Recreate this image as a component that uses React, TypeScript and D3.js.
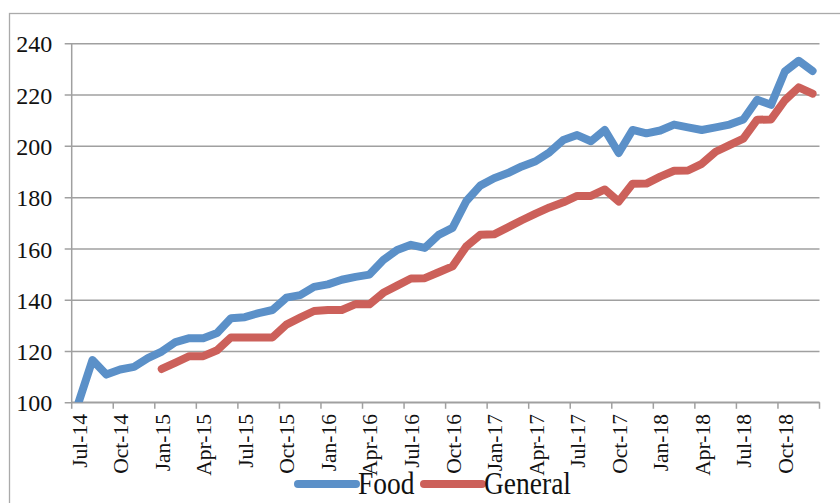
import React, { useEffect, useRef } from "react";
import * as d3 from "d3";

// monthly index values, Jul-14 .. Dec-18
const months = [
  "Jul-14", "Aug-14", "Sep-14", "Oct-14", "Nov-14", "Dec-14",
  "Jan-15", "Feb-15", "Mar-15", "Apr-15", "May-15", "Jun-15",
  "Jul-15", "Aug-15", "Sep-15", "Oct-15", "Nov-15", "Dec-15",
  "Jan-16", "Feb-16", "Mar-16", "Apr-16", "May-16", "Jun-16",
  "Jul-16", "Aug-16", "Sep-16", "Oct-16", "Nov-16", "Dec-16",
  "Jan-17", "Feb-17", "Mar-17", "Apr-17", "May-17", "Jun-17",
  "Jul-17", "Aug-17", "Sep-17", "Oct-17", "Nov-17", "Dec-17",
  "Jan-18", "Feb-18", "Mar-18", "Apr-18", "May-18", "Jun-18",
  "Jul-18", "Aug-18", "Sep-18", "Oct-18", "Nov-18", "Dec-18",
];

const food = [
  100, 116.5, 110.8, 112.8, 113.8, 117.2,
  119.8, 123.5, 125, 125, 127, 132.8,
  133.2, 134.8, 136, 140.8, 141.8, 145,
  146, 147.8, 148.9, 149.8, 155.5, 159.4,
  161.4, 160.2, 165.3, 168, 178.5, 184.5,
  187.4, 189.4, 192, 194, 197.5, 202.3,
  204.2, 201.8, 206.2, 197.2, 206.2, 204.9,
  206, 208.3, 207.2, 206.2, 207.2, 208.3,
  210.3, 218, 216, 229, 233.2, 229.2,
];

const general = [
  null, null, null, null, null, null,
  113, 115.5, 118, 118, 120.3, 125.3,
  125.3, 125.3, 125.3, 130.3, 133, 135.6,
  136, 136, 138.3, 138.2, 142.7, 145.5,
  148.3, 148.4, 150.7, 153, 160.8, 165.3,
  165.5, 168.2, 171, 173.6, 176, 178,
  180.5, 180.5, 183, 178.3, 185.2, 185.3,
  188, 190.3, 190.4, 193, 197.7, 200.3,
  202.8, 210.2, 210.3, 217.8, 222.8, 220.4,
];

const yTicks = [100, 120, 140, 160, 180, 200, 220, 240];
const xLabels = months.filter((m, i) => i % 3 === 0);

const series = [
  { name: "Food", values: food, color: "#5b90c8" },
  { name: "General", values: general, color: "#cc605a" },
];

export default function App() {
  const svgRef = useRef<SVGSVGElement>(null);

  useEffect(() => {
    const W = 840;
    const H = 503;
    const svg = d3.select(svgRef.current).attr("width", W).attr("height", H);
    svg.selectAll("*").remove();

    const left = 71.7;
    const right = 819.5;
    const top = 43.3;
    const bottom = 402.3;
    const grey = "#a0a0a0";
    const serif = "Liberation Serif, DejaVu Serif, serif";

    const x = d3.scaleBand().domain(months).range([left, right]).padding(0);
    const y = d3.scaleLinear().domain([100, 240]).range([bottom, top]);

    // outer frame
    svg.append("rect")
      .attr("x", 9.5).attr("y", 13.5)
      .attr("width", W).attr("height", H)
      .attr("fill", "white")
      .attr("stroke", "#aaaaaa")
      .attr("stroke-width", 1.3);

    // horizontal grid + y labels
    const yAxis = d3.axisLeft(y)
      .tickValues(yTicks)
      .tickSize(-(right - left))
      .tickSizeOuter(0)
      .tickFormat(d3.format("d"));
    const gy = svg.append("g").attr("transform", `translate(${left},0)`).call(yAxis);
    gy.attr("font-family", null).attr("font-size", null);
    gy.select(".domain").remove();
    gy.selectAll(".tick line")
      .attr("x1", -7)
      .attr("stroke", grey)
      .attr("stroke-width", 1.5);
    gy.selectAll(".tick text")
      .style("font-family", serif)
      .style("font-size", "24px")
      .attr("fill", "#111")
      .attr("dy", "0.36em")
      .attr("x", -19.5);

    // y axis line
    svg.append("line")
      .attr("x1", left).attr("x2", left)
      .attr("y1", top).attr("y2", bottom)
      .attr("stroke", grey).attr("stroke-width", 1.5);

    // x axis line and ticks between categories every 3 months
    svg.append("line")
      .attr("x1", left).attr("x2", right)
      .attr("y1", bottom).attr("y2", bottom)
      .attr("stroke", grey).attr("stroke-width", 1.5);
    const tickPos = months.filter((m, i) => i % 3 === 0).map((m) => x(m) as number).concat([right]);
    svg.append("g").selectAll("line")
      .data(tickPos)
      .join("line")
      .attr("x1", (d) => d).attr("x2", (d) => d)
      .attr("y1", bottom).attr("y2", bottom + 6.5)
      .attr("stroke", grey).attr("stroke-width", 1.5);

    svg.append("g").selectAll("text")
      .data(xLabels)
      .join("text")
      .attr("transform", (d) => `translate(${(x(d) as number) + x.bandwidth() / 2 + 8},414) rotate(-90)`)
      .attr("text-anchor", "end")
      .style("font-family", serif)
      .style("font-size", "21.5px")
      .attr("fill", "#111")
      .text((d) => d);

    // clip lines to plot area
    svg.append("clipPath").attr("id", "plotclip")
      .append("rect")
      .attr("x", left).attr("y", 0)
      .attr("width", W - left).attr("height", bottom);

    const line = d3.line<number | null>()
      .defined((d) => d != null)
      .x((d, i) => (x(months[i]) as number) + x.bandwidth() / 2)
      .y((d) => y(d as number));

    svg.append("g").attr("clip-path", "url(#plotclip)")
      .selectAll("path")
      .data(series)
      .join("path")
      .attr("d", (s) => line(s.values))
      .attr("fill", "none")
      .attr("stroke", (s) => s.color)
      .attr("stroke-width", 8)
      .attr("stroke-linejoin", "round")
      .attr("stroke-linecap", "round");

    // legend
    const legend = svg.append("g");
    const legX = [298, 424];
    series.forEach((s, i) => {
      legend.append("line")
        .attr("x1", legX[i]).attr("x2", legX[i] + 58)
        .attr("y1", 484).attr("y2", 484)
        .attr("stroke", s.color)
        .attr("stroke-width", 8)
        .attr("stroke-linecap", "round");
      legend.append("text")
        .attr("transform", `translate(${legX[i] + 60},494) scale(1,1.12)`)
        .style("font-family", serif)
        .style("font-size", "27.5px")
        .attr("fill", "#111")
        .text(s.name);
    });
  }, []);

  return (
    <div>
      <svg ref={svgRef} style={{ position: "absolute", left: 0, top: 0, display: "block" }}></svg>
    </div>
  );
}
